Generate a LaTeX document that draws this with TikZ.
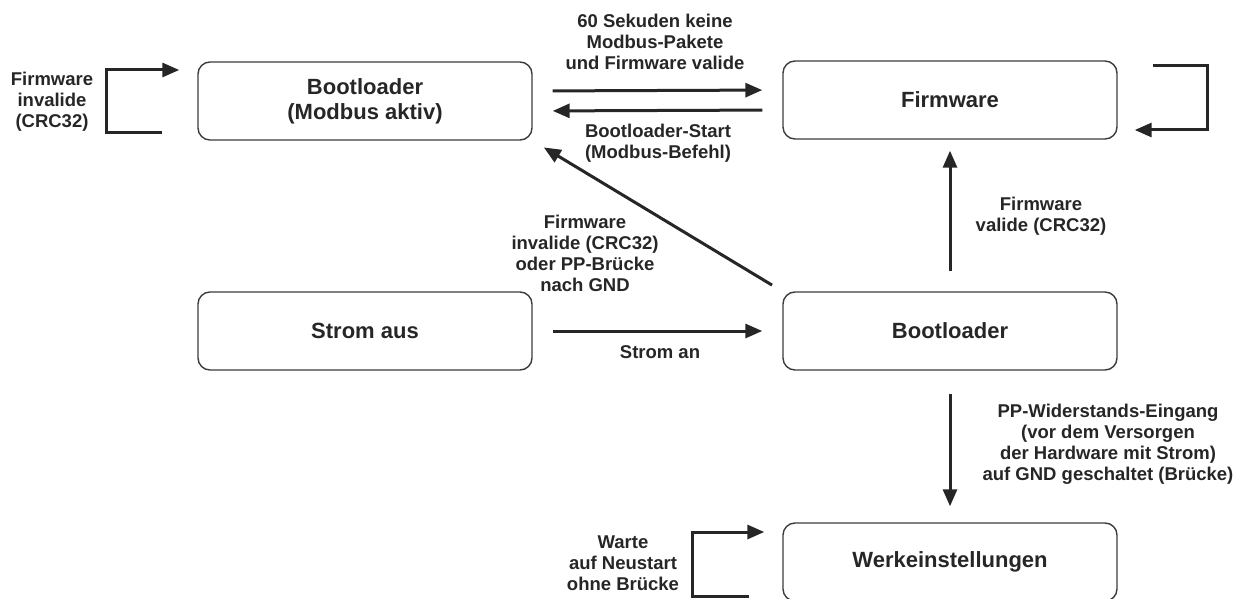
\documentclass[tikz,border=0pt]{standalone}
\usepackage{fontspec}
\setmainfont{Liberation Sans}
\usepackage{xcolor}
\usepackage{tikz}
\usetikzlibrary{arrows.meta,positioning,calc}

\definecolor{ink}{HTML}{262626}

\begin{document}
\begin{tikzpicture}[x=1pt,y=-1pt,
    state/.style={draw=ink!90,line width=1.4pt,rounded corners=12pt,
      minimum width=334pt,minimum height=78pt,align=center,text=ink,
      font=\fontsize{22}{25}\selectfont\bfseries},
    lbl/.style={align=center,text=ink,font=\fontsize{18.5}{21}\selectfont\bfseries},
    arr/.style={-{Triangle[length=17pt,width=14pt]},line width=3pt,draw=ink}]
  \useasboundingbox (0,0) rectangle (1248,599);
  % states
  \node[state] (bootmb) at (365,101) {Bootloader\\(Modbus aktiv)};
  \node[state] (fw) at (950,100) {Firmware};
  \node[state] (stromaus) at (365,331) {Strom aus};
  \node[state] (boot) at (950,331) {Bootloader};
  \node[state] (werk) at (950,562) {Werkeinstellungen};
  % transitions
  \draw[arr,shorten <=20pt,shorten >=20pt] ([yshift=10pt]bootmb.east) -- ([yshift=10pt]fw.west);
  \draw[arr,shorten <=20pt,shorten >=20pt] ([yshift=-10pt]fw.west) -- ([yshift=-10pt]bootmb.east);
  \draw[arr,shorten <=20pt,shorten >=20pt] (stromaus.east) -- (boot.west);
  \draw[arr,shorten <=12pt,shorten >=13pt] (boot.north west) -- (bootmb.south east);
  \draw[arr,shorten <=20pt,shorten >=11pt] (boot.north) -- (fw.south);
  \draw[arr,shorten <=23pt,shorten >=16pt] (boot.south) -- (werk.north);
  % self loops
  \draw[arr] ($(bootmb.west)+(-35,32)$) -| ($(bootmb.west)+(-91,-31)$) -- ($(bootmb.west)+(-18,-31)$);
  \draw[arr] ($(fw.east)+(35,-34)$) -| ($(fw.east)+(90,30)$) -- ($(fw.east)+(17,30)$);
  \draw[arr] ($(werk.west)+(-33,34)$) -| ($(werk.west)+(-90,-30)$) -- ($(werk.west)+(-18,-30)$);
  % labels
  \node[lbl] (lfwinv) at (52,102) {Firmware\\invalide\\(CRC32)};
  \node[lbl] (lmbtimeout) at (655,42) {60 Sekuden keine\\Modbus-Pakete\\und Firmware valide};
  \node[lbl] (lmbstart) at (658,143) {Bootloader-Start\\(Modbus-Befehl)};
  \node[lbl] (lpp) at (585,253) {Firmware\\invalide (CRC32)\\oder PP-Brücke\\nach GND};
  \node[lbl] (lfwval) at (1041,216) {Firmware\\valide (CRC32)};
  \node[lbl] (lstrom) at (660,352) {Strom an};
  \node[lbl] (lwerk) at (1108,444) {PP-Widerstands-Eingang\\(vor dem Versorgen\\der Hardware mit Strom)\\auf GND geschaltet (Brücke)};
  \node[lbl] (lwarte) at (623,563) {Warte\\auf Neustart\\ohne Brücke};
\end{tikzpicture}
\end{document}
